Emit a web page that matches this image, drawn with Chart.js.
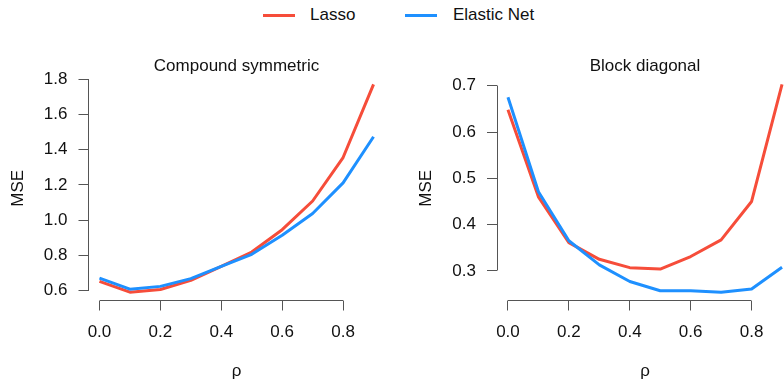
<!DOCTYPE html>
<html>
<head>
<meta charset="utf-8">
<script src="https://cdn.jsdelivr.net/npm/chart.js@4/dist/chart.umd.min.js"></script>
<style>
  html, body { margin: 0; padding: 0; background: #fff; }
  body { width: 784px; height: 380px; overflow: hidden; position: relative;
         font-family: "Liberation Sans", Arial, sans-serif; }
  canvas { position: absolute; top: 0; }
  #c1 { left: 0; }
  #c2 { left: 392px; }
  .leg { position: absolute; top: 0; height: 30px; font-size: 17px; color: #111; }
  .sw { position: absolute; top: 13.5px; height: 3px; width: 32px; }
  .lt { position: absolute; top: 5px; line-height: 20px; white-space: nowrap; }
</style>
</head>
<body>
<div class="leg">
  <div class="sw" style="left:263px;background:#F64D3A"></div>
  <div class="lt" style="left:310px">Lasso</div>
  <div class="sw" style="left:405px;background:#1E90FF"></div>
  <div class="lt" style="left:453px">Elastic Net</div>
</div>
<canvas id="c1" width="392" height="380"></canvas>
<canvas id="c2" width="410" height="380"></canvas>
<script>
// ---- data ----
const rho = [0.0, 0.1, 0.2, 0.3, 0.4, 0.5, 0.6, 0.7, 0.8, 0.9];
const csLasso = [0.651, 0.590, 0.605, 0.657, 0.737, 0.818, 0.945, 1.108, 1.355, 1.771];
const csEnet  = [0.670, 0.607, 0.623, 0.667, 0.737, 0.805, 0.913, 1.037, 1.211, 1.473];
const bdLasso = [0.648, 0.460, 0.361, 0.325, 0.307, 0.304, 0.331, 0.367, 0.450, 0.703];
const bdEnet  = [0.675, 0.471, 0.365, 0.313, 0.277, 0.257, 0.257, 0.254, 0.261, 0.308];
const xTicks  = [0.0, 0.2, 0.4, 0.6, 0.8];
const csTicks = [0.6, 0.8, 1.0, 1.2, 1.4, 1.6, 1.8];
const bdTicks = [0.3, 0.4, 0.5, 0.6, 0.7];
const seriesNames = ['Lasso', 'Elastic Net'];
const panelTitles = ['Compound symmetric', 'Block diagonal'];
const xLabel = 'ρ';
const yLabel = 'MSE';

const RED = '#F64D3A', BLUE = '#1E90FF', AXIS = '#555555', TXT = '#111111';
const FONT = '"Liberation Sans", Arial, sans-serif';
Chart.defaults.font.family = FONT;

function rlim(arrs) {
  const all = [].concat(...arrs);
  const lo = Math.min(...all), hi = Math.max(...all);
  const p = 0.04 * (hi - lo);
  return [lo - p, hi + p];
}
function align(px) { return Math.round(px - 0.5) + 0.5; }

const rAxes = {
  id: 'rAxes',
  beforeDatasetsDraw(chart) {
    const { ctx, chartArea, scales } = chart;
    const xs = scales.x, ys = scales.y;
    ctx.save();
    ctx.strokeStyle = AXIS;
    ctx.lineWidth = 1;
    const xt = xs.ticks, yt = ys.ticks;
    ctx.beginPath();
    const lx = align(chartArea.left);
    ctx.moveTo(lx, align(ys.getPixelForValue(yt[0].value)));
    ctx.lineTo(lx, align(ys.getPixelForValue(yt[yt.length - 1].value)));
    const by = align(chartArea.bottom);
    ctx.moveTo(align(xs.getPixelForValue(xt[0].value)), by);
    ctx.lineTo(align(xs.getPixelForValue(xt[xt.length - 1].value)), by);
    ctx.stroke();
    ctx.restore();
  },
  afterDraw(chart, args, opts) {
    const { ctx, chartArea } = chart;
    ctx.save();
    ctx.fillStyle = TXT;
    ctx.font = '17px ' + FONT;
    ctx.textAlign = 'center';
    ctx.textBaseline = 'middle';
    ctx.fillText(opts.title, (chartArea.left + chartArea.right) / 2, 66.5);
    ctx.restore();
  }
};

function makePanel(id, title, lasso, enet, yTicks, yAxisW, padRight, yTitlePad) {
  const [xmin, xmax] = rlim([rho]);
  const [ymin, ymax] = rlim([lasso, enet]);
  return new Chart(document.getElementById(id), {
    type: 'line',
    data: {
      datasets: [
        { label: seriesNames[0], data: rho.map((r, i) => ({ x: r, y: lasso[i] })),
          borderColor: RED, backgroundColor: RED, borderWidth: 3, order: 1 },
        { label: seriesNames[1], data: rho.map((r, i) => ({ x: r, y: enet[i] })),
          borderColor: BLUE, backgroundColor: BLUE, borderWidth: 3, order: 0 }
      ]
    },
    options: {
      responsive: false,
      animation: false,
      devicePixelRatio: 1,
      layout: { padding: { top: 76, right: padRight, bottom: 0, left: 0 } },
      elements: { point: { radius: 0, hoverRadius: 0 }, line: { tension: 0, borderCapStyle: 'butt', borderJoinStyle: 'round' } },
      plugins: { legend: { display: false }, tooltip: { enabled: false }, rAxes: { title: title } },
      scales: {
        x: {
          type: 'linear', min: xmin, max: xmax,
          afterBuildTicks: s => { s.ticks = xTicks.map(v => ({ value: v })); },
          afterFit: s => { s.height = 79.5; },
          grid: { drawOnChartArea: false, drawTicks: true, tickLength: 10, color: AXIS, lineWidth: 1 },
          border: { display: false },
          ticks: { padding: 12, color: TXT, font: { size: 17, lineHeight: 1.2 }, maxRotation: 0,
                   callback: v => Number(v).toFixed(1) },
          title: { display: true, text: xLabel, color: TXT, font: { size: 17, lineHeight: 1.0 }, padding: { top: 0, bottom: 0 } }
        },
        y: {
          type: 'linear', min: ymin, max: ymax,
          afterBuildTicks: s => { s.ticks = yTicks.map(v => ({ value: v })); },
          afterFit: s => { s.width = yAxisW; },
          grid: { drawOnChartArea: false, drawTicks: true, tickLength: 10, color: AXIS, lineWidth: 1 },
          border: { display: false },
          ticks: { padding: 11, color: TXT, font: { size: 17, lineHeight: 1.2 },
                   callback: v => Number(v).toFixed(1) },
          title: { display: true, text: yLabel, color: TXT, font: { size: 17, lineHeight: 1.0 }, padding: { top: yTitlePad, bottom: 0 } }
        }
      }
    },
    plugins: [rAxes]
  });
}

makePanel('c1', panelTitles[0], csLasso, csEnet, csTicks, 88.5, 7.5, 9.5);
makePanel('c2', panelTitles[1], bdLasso, bdEnet, bdTicks, 105, 9, 26);
</script>
</body>
</html>
